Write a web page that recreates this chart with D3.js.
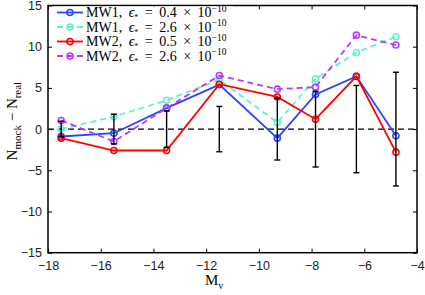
<!DOCTYPE html>
<html>
<head>
<meta charset="utf-8">
<script src="https://d3js.org/d3.v7.min.js"></script>
<style>
  body { margin: 0; background: #fff; }
  .tick text { font-family: "Liberation Sans", Arial, sans-serif; font-size: 12.5px; fill: #222; }
  .lab { font-family: "Liberation Serif", "DejaVu Serif", serif; fill: #000; }
</style>
</head>
<body>
<div id="chart"></div>
<script>
// magnitude bins (M_v)
var mv = [-17.5, -15.5, -13.5, -11.5, -9.3, -7.85, -6.3, -4.8];

// N_mock - N_real per model
var mw1_04 = [-0.9, -0.5, 2.55, 5.4, -1.1, 4.2, 6.4, -0.8];
var mw1_26 = [0.0, 1.5, 3.5, 6.0, 0.8, 6.1, 9.3, 11.2];
var mw2_05 = [-1.1, -2.6, -2.6, 5.45, 3.9, 1.2, 6.4, -2.8];
var mw2_26 = [1.05, -1.5, 2.55, 6.5, 4.85, 5.1, 11.4, 10.2];

// poisson-ish error bars around zero
var errHalf = [0.95, 1.8, 2.2, 2.75, 3.75, 4.6, 5.3, 6.9];

var xTicks = [-18, -16, -14, -12, -10, -8, -6, -4];
var yTicks = [-15, -10, -5, 0, 5, 10, 15];

var legendEps = ["0.4", "2.6", "0.5", "2.6"];
var legendName = ["MW1", "MW1", "MW2", "MW2"];

var series = [
  { vals: mw1_04, color: "#2a45ff", dash: null },
  { vals: mw1_26, color: "#5ff2d0", dash: "6,4" },
  { vals: mw2_05, color: "#ff0000", dash: null },
  { vals: mw2_26, color: "#b43cff", dash: "6,4" }
];

var margin = { top: 5.5, right: 8, bottom: 42.3, left: 48 },
    width = 425 - margin.left - margin.right,
    height = 295 - margin.top - margin.bottom;

var svg = d3.select("#chart").append("svg")
    .attr("width", 425).attr("height", 295)
  .append("g")
    .attr("transform", "translate(" + margin.left + "," + margin.top + ")");

var x = d3.scaleLinear().domain([-18, -4]).range([0, width]);
var y = d3.scaleLinear().domain([-15, 15]).range([height, 0]);

// axes with inward ticks
var tl = 4;
svg.append("g").attr("transform", "translate(0," + height + ")")
  .call(d3.axisBottom(x).tickValues(xTicks).tickSizeInner(-tl).tickSizeOuter(0).tickPadding(8))
  .call(function (g) { g.select(".domain").remove(); });
svg.append("g")
  .call(d3.axisLeft(y).tickValues(yTicks).tickSizeInner(-tl).tickSizeOuter(0).tickPadding(6))
  .call(function (g) { g.select(".domain").remove(); });
svg.append("g")
  .call(d3.axisTop(x).tickValues(xTicks).tickSizeInner(-tl).tickSizeOuter(0).tickFormat(""))
  .call(function (g) { g.select(".domain").remove(); });
svg.append("g").attr("transform", "translate(" + width + ",0)")
  .call(d3.axisRight(y).tickValues(yTicks).tickSizeInner(-tl).tickSizeOuter(0).tickFormat(""))
  .call(function (g) { g.select(".domain").remove(); });
svg.selectAll(".tick line").attr("stroke", "#000").attr("stroke-width", 1);

// zero line
svg.append("line")
  .attr("x1", 0).attr("x2", width)
  .attr("y1", y(0)).attr("y2", y(0))
  .attr("stroke", "#000").attr("stroke-width", 1.3)
  .attr("stroke-dasharray", "6,4");

// model lines
var line = d3.line()
  .x(function (d, i) { return x(mv[i]); })
  .y(function (d) { return y(d); });

series.forEach(function (s) {
  svg.append("path")
    .datum(s.vals)
    .attr("fill", "none")
    .attr("stroke", s.color)
    .attr("stroke-width", 1.8)
    .attr("stroke-dasharray", s.dash)
    .attr("d", line);
  svg.selectAll(null)
    .data(s.vals)
    .enter().append("circle")
    .attr("cx", function (d, i) { return x(mv[i]); })
    .attr("cy", function (d) { return y(d); })
    .attr("r", 3)
    .attr("fill", "none")
    .attr("stroke", s.color)
    .attr("stroke-width", 1.6);
});

// error bars
var eb = svg.append("g").attr("stroke", "#000").attr("stroke-width", 1.4);
mv.forEach(function (m, i) {
  var cx = x(m), e = errHalf[i];
  eb.append("line").attr("x1", cx).attr("x2", cx).attr("y1", y(-e)).attr("y2", y(e));
  eb.append("line").attr("x1", cx - 3).attr("x2", cx + 3).attr("y1", y(e)).attr("y2", y(e));
  eb.append("line").attr("x1", cx - 3).attr("x2", cx + 3).attr("y1", y(-e)).attr("y2", y(-e));
});

// frame
svg.append("rect")
  .attr("width", width).attr("height", height)
  .attr("fill", "none").attr("stroke", "#000").attr("stroke-width", 1.5);

// legend (white box, no border)
var leg = svg.append("g").attr("transform", "translate(4,7)");
leg.append("rect")
  .attr("x", 2).attr("y", -6).attr("width", 180).attr("height", 58)
  .attr("fill", "#fff");
series.forEach(function (s, i) {
  var row = leg.append("g").attr("transform", "translate(0," + (i * 14.5) + ")");
  row.append("line")
    .attr("x1", 5).attr("x2", 31).attr("y1", 0).attr("y2", 0)
    .attr("stroke", s.color).attr("stroke-width", 1.8)
    .attr("stroke-dasharray", s.dash);
  row.append("circle").attr("cx", 18).attr("cy", 0).attr("r", 3)
    .attr("fill", "none").attr("stroke", s.color).attr("stroke-width", 1.6);
  var t = row.append("text").attr("class", "lab").attr("x", 34).attr("y", 4.8)
    .style("font-size", "14px").style("word-spacing", "3px");
  t.append("tspan").text(legendName[i] + ", ");
  t.append("tspan").style("font-style", "italic").text("\u03f5");
  t.append("tspan").attr("dy", 3).style("font-size", "8px").text("*");
  t.append("tspan").attr("dy", -3).text(" = " + legendEps[i] + " \u00d7 10");
  t.append("tspan").attr("dy", -5.5).style("font-size", "9.5px").text("\u221210");
});

// axis labels
var xl = svg.append("text").attr("class", "lab")
  .attr("x", 157).attr("y", height + 32)
  .style("font-size", "15px");
xl.append("tspan").text("M");
xl.append("tspan").attr("dy", 4).style("font-size", "10px").text("v");

var yl = svg.append("text").attr("class", "lab")
  .attr("transform", "translate(-31," + (height / 2 - 8) + ") rotate(-90)")
  .attr("text-anchor", "middle")
  .style("font-size", "15px");
yl.append("tspan").text("N");
yl.append("tspan").attr("dy", 4).style("font-size", "11px").text("mock");
yl.append("tspan").attr("dy", -4).text(" \u2212 N");
yl.append("tspan").attr("dy", 4).style("font-size", "11px").text("real");
</script>
</body>
</html>
